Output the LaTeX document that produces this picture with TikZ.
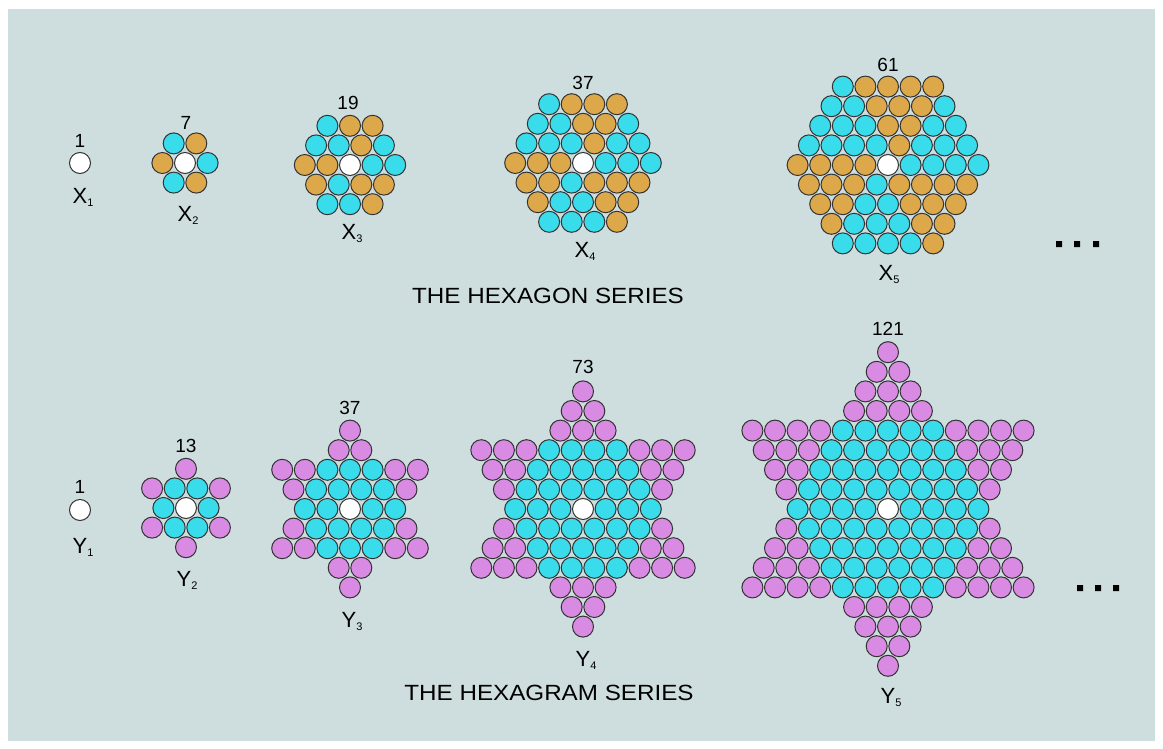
\documentclass[tikz,border=0pt]{standalone}
\usepackage{fontspec}
\setmainfont{Liberation Sans}
\usepackage{graphicx}
\definecolor{bgcol}{HTML}{CEDEDE}
\definecolor{cyn}{HTML}{38DCEB}
\definecolor{org}{HTML}{DDA84A}
\definecolor{pnk}{HTML}{D98BE3}
\definecolor{wht}{HTML}{FFFFFF}
\definecolor{rim}{HTML}{333333}
\tikzset{
  ball/.style={draw=rim, line width=1pt},
  numlbl/.style={font=\fontsize{19}{19}\selectfont, inner sep=0pt},
  termlbl/.style={font=\fontsize{22}{22}\selectfont, inner sep=0pt, anchor=base},
  serieslbl/.style={font=\fontsize{22}{22}\selectfont, inner sep=0pt},
  grid/.style={x=22.6pt, y=-19.6pt}
}
\newcommand{\ballrow}[3]{\foreach \col [count=\pos from 0] in {#3} {\draw[ball, fill=\col] ({#1+\pos},#2) circle (10.5pt);}}
\newcommand{\term}[2]{#1\raisebox{-3pt}{\fontsize{11}{11}\selectfont #2}}

\begin{document}
\begin{tikzpicture}[x=1pt, y=-1pt]
\useasboundingbox (0,0) rectangle (1163,749);
\fill[white] (0,0) rectangle (1163,749);
\fill[bgcol] (8,9) rectangle (1155,741);

\begin{scope}[shift={(80,163)}, grid]
\ballrow{0}{0}{wht}
\end{scope}
\node[numlbl] (nx1) at (80,140.5) {1};
\node[termlbl] (x1) at (83,203.5) {\term{X}{1}};

\begin{scope}[shift={(185,163)}, grid]
\ballrow{-0.5}{-1}{cyn,org}
\ballrow{-1}{0}{org,wht,cyn}
\ballrow{-0.5}{1}{cyn,org}
\end{scope}
\node[numlbl] (nx2) at (186,123) {7};
\node[termlbl] (x2) at (188,221.5) {\term{X}{2}};

\begin{scope}[shift={(350,165)}, grid]
\ballrow{-1}{-2}{cyn,org,org}
\ballrow{-1.5}{-1}{cyn,cyn,org,cyn}
\ballrow{-2}{0}{org,org,wht,cyn,cyn}
\ballrow{-1.5}{1}{org,cyn,org,org}
\ballrow{-1}{2}{cyn,cyn,org}
\end{scope}
\node[numlbl] (nx3) at (348,103) {19};
\node[termlbl] (x3) at (352,239.5) {\term{X}{3}};

\begin{scope}[shift={(583,163)}, grid]
\ballrow{-1.5}{-3}{cyn,org,org,org}
\ballrow{-2}{-2}{cyn,cyn,org,org,cyn}
\ballrow{-2.5}{-1}{cyn,cyn,cyn,org,cyn,cyn}
\ballrow{-3}{0}{org,org,org,wht,cyn,cyn,cyn}
\ballrow{-2.5}{1}{org,org,cyn,org,org,org}
\ballrow{-2}{2}{org,cyn,cyn,org,org}
\ballrow{-1.5}{3}{cyn,cyn,cyn,org}
\end{scope}
\node[numlbl] (nx4) at (583,82.5) {37};
\node[termlbl] (x4) at (585,258) {\term{X}{4}};

\begin{scope}[shift={(888,165)}, grid]
\ballrow{-2}{-4}{cyn,org,org,org,org}
\ballrow{-2.5}{-3}{cyn,cyn,org,org,org,cyn}
\ballrow{-3}{-2}{cyn,cyn,cyn,org,org,cyn,cyn}
\ballrow{-3.5}{-1}{cyn,cyn,cyn,cyn,org,cyn,cyn,cyn}
\ballrow{-4}{0}{org,org,org,org,wht,cyn,cyn,cyn,cyn}
\ballrow{-3.5}{1}{org,org,org,cyn,org,org,org,org}
\ballrow{-3}{2}{org,org,cyn,cyn,org,org,org}
\ballrow{-2.5}{3}{org,cyn,cyn,cyn,org,org}
\ballrow{-2}{4}{cyn,cyn,cyn,cyn,org}
\end{scope}
\node[numlbl] (nx5) at (888,65) {61};
\node[termlbl] (x5) at (889,280) {\term{X}{5}};

\fill (1056,241) rectangle +(6,6) (1074,241) rectangle +(6,6) (1093,241) rectangle +(6,6);
\node[serieslbl] (hexagon) at (548,296) {\scalebox{1.1}[1]{THE HEXAGON SERIES}};

\begin{scope}[shift={(80,510)}, grid]
\ballrow{0}{0}{wht}
\end{scope}
\node[numlbl] (ny1) at (80,487) {1};
\node[termlbl] (y1) at (83,553) {\term{Y}{1}};

\begin{scope}[shift={(186,508)}, grid]
\ballrow{0}{-2}{pnk}
\ballrow{-1.5}{-1}{pnk,cyn,cyn,pnk}
\ballrow{-1}{0}{cyn,wht,cyn}
\ballrow{-1.5}{1}{pnk,cyn,cyn,pnk}
\ballrow{0}{2}{pnk}
\end{scope}
\node[numlbl] (ny2) at (186,446) {13};
\node[termlbl] (y2) at (187,586.5) {\term{Y}{2}};

\begin{scope}[shift={(350,509)}, grid]
\ballrow{0}{-4}{pnk}
\ballrow{-0.5}{-3}{pnk,pnk}
\ballrow{-3}{-2}{pnk,pnk,cyn,cyn,cyn,pnk,pnk}
\ballrow{-2.5}{-1}{pnk,cyn,cyn,cyn,cyn,pnk}
\ballrow{-2}{0}{cyn,cyn,wht,cyn,cyn}
\ballrow{-2.5}{1}{pnk,cyn,cyn,cyn,cyn,pnk}
\ballrow{-3}{2}{pnk,pnk,cyn,cyn,cyn,pnk,pnk}
\ballrow{-0.5}{3}{pnk,pnk}
\ballrow{0}{4}{pnk}
\end{scope}
\node[numlbl] (ny3) at (350,408) {37};
\node[termlbl] (y3) at (352,627) {\term{Y}{3}};

\begin{scope}[shift={(583,509)}, grid]
\ballrow{0}{-6}{pnk}
\ballrow{-0.5}{-5}{pnk,pnk}
\ballrow{-1}{-4}{pnk,pnk,pnk}
\ballrow{-4.5}{-3}{pnk,pnk,pnk,cyn,cyn,cyn,cyn,pnk,pnk,pnk}
\ballrow{-4}{-2}{pnk,pnk,cyn,cyn,cyn,cyn,cyn,pnk,pnk}
\ballrow{-3.5}{-1}{pnk,cyn,cyn,cyn,cyn,cyn,cyn,pnk}
\ballrow{-3}{0}{cyn,cyn,cyn,wht,cyn,cyn,cyn}
\ballrow{-3.5}{1}{pnk,cyn,cyn,cyn,cyn,cyn,cyn,pnk}
\ballrow{-4}{2}{pnk,pnk,cyn,cyn,cyn,cyn,cyn,pnk,pnk}
\ballrow{-4.5}{3}{pnk,pnk,pnk,cyn,cyn,cyn,cyn,pnk,pnk,pnk}
\ballrow{-1}{4}{pnk,pnk,pnk}
\ballrow{-0.5}{5}{pnk,pnk}
\ballrow{0}{6}{pnk}
\end{scope}
\node[numlbl] (ny4) at (583,367) {73};
\node[termlbl] (y4) at (586,666.5) {\term{Y}{4}};

\begin{scope}[shift={(888,509)}, grid]
\ballrow{0}{-8}{pnk}
\ballrow{-0.5}{-7}{pnk,pnk}
\ballrow{-1}{-6}{pnk,pnk,pnk}
\ballrow{-1.5}{-5}{pnk,pnk,pnk,pnk}
\ballrow{-6}{-4}{pnk,pnk,pnk,pnk,cyn,cyn,cyn,cyn,cyn,pnk,pnk,pnk,pnk}
\ballrow{-5.5}{-3}{pnk,pnk,pnk,cyn,cyn,cyn,cyn,cyn,cyn,pnk,pnk,pnk}
\ballrow{-5}{-2}{pnk,pnk,cyn,cyn,cyn,cyn,cyn,cyn,cyn,pnk,pnk}
\ballrow{-4.5}{-1}{pnk,cyn,cyn,cyn,cyn,cyn,cyn,cyn,cyn,pnk}
\ballrow{-4}{0}{cyn,cyn,cyn,cyn,wht,cyn,cyn,cyn,cyn}
\ballrow{-4.5}{1}{pnk,cyn,cyn,cyn,cyn,cyn,cyn,cyn,cyn,pnk}
\ballrow{-5}{2}{pnk,pnk,cyn,cyn,cyn,cyn,cyn,cyn,cyn,pnk,pnk}
\ballrow{-5.5}{3}{pnk,pnk,pnk,cyn,cyn,cyn,cyn,cyn,cyn,pnk,pnk,pnk}
\ballrow{-6}{4}{pnk,pnk,pnk,pnk,cyn,cyn,cyn,cyn,cyn,pnk,pnk,pnk,pnk}
\ballrow{-1.5}{5}{pnk,pnk,pnk,pnk}
\ballrow{-1}{6}{pnk,pnk,pnk}
\ballrow{-0.5}{7}{pnk,pnk}
\ballrow{0}{8}{pnk}
\end{scope}
\node[numlbl] (ny5) at (888,328.5) {121};
\node[termlbl] (y5) at (891,703) {\term{Y}{5}};

\fill (1077,585) rectangle +(6,6) (1095,585) rectangle +(6,6) (1113,585) rectangle +(6,6);
\node[serieslbl] (hexagram) at (549,693) {\scalebox{1.1}[1]{THE HEXAGRAM SERIES}};
\end{tikzpicture}
\end{document}
